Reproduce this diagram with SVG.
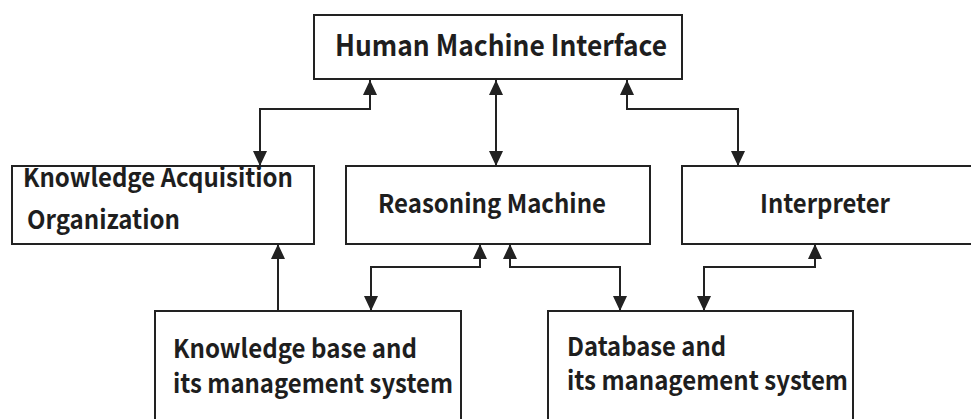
<svg xmlns="http://www.w3.org/2000/svg" width="971" height="419" viewBox="0 0 971 419">
  <style>
    .box { fill: #ffffff; stroke: #222222; stroke-width: 2; }
    .lbl { font-family: "Noto Sans CJK SC", "Noto Sans", sans-serif; font-weight: 700; font-size: 26px; fill: #1e1e1e; }
    .big { font-size: 29px; }
    .wire { fill: none; stroke: #222222; stroke-width: 2; }
    .two { marker-start: url(#head); marker-end: url(#head); }
    .one { marker-end: url(#head); }
  </style>
  <defs>
    <marker id="head" viewBox="0 -8 16 16" refX="15" refY="0" markerWidth="16" markerHeight="16" markerUnits="userSpaceOnUse" orient="auto-start-reverse">
      <path d="M0,-7 L15,0 L0,7 Z" fill="#222222"/>
    </marker>
  </defs>
  <rect width="971" height="419" fill="#ffffff"/>

  <g id="connectors">
    <path class="wire two" d="M370,80 V109 H260 V166"/>
    <path class="wire two" d="M496,80 V166"/>
    <path class="wire two" d="M627,80 V109 H738 V166"/>
    <path class="wire one" d="M278,311 V244"/>
    <path class="wire two" d="M480,244 V267 H371 V311"/>
    <path class="wire two" d="M510,244 V267 H620 V311"/>
    <path class="wire two" d="M815,244 V267 H704 V311"/>
  </g>

  <g id="hmi">
    <rect class="box" x="314" y="15" width="368" height="64"/>
    <text class="lbl big" x="335" y="56" textLength="332" lengthAdjust="spacingAndGlyphs">Human Machine Interface</text>
  </g>

  <g id="acquisition">
    <rect class="box" x="12" y="166" width="302" height="78"/>
    <text class="lbl" x="23" y="187" textLength="270" lengthAdjust="spacingAndGlyphs">Knowledge Acquisition</text>
    <text class="lbl" x="27" y="229" textLength="153" lengthAdjust="spacingAndGlyphs">Organization</text>
  </g>

  <g id="reasoning">
    <rect class="box" x="346" y="166" width="304" height="78"/>
    <text class="lbl" x="378" y="213" textLength="228" lengthAdjust="spacingAndGlyphs">Reasoning Machine</text>
  </g>

  <g id="interpreter">
    <rect class="box" x="682" y="166" width="300" height="78"/>
    <text class="lbl" x="760" y="213" textLength="130" lengthAdjust="spacingAndGlyphs">Interpreter</text>
  </g>

  <g id="knowledge-base">
    <rect class="box" x="155" y="311" width="306" height="120"/>
    <text class="lbl" x="173" y="358" textLength="244" lengthAdjust="spacingAndGlyphs">Knowledge base and</text>
    <text class="lbl" x="173" y="393" textLength="280" lengthAdjust="spacingAndGlyphs">its management system</text>
  </g>

  <g id="database">
    <rect class="box" x="548" y="311" width="305" height="120"/>
    <text class="lbl" x="567" y="356" textLength="159" lengthAdjust="spacingAndGlyphs">Database and</text>
    <text class="lbl" x="567" y="390" textLength="281" lengthAdjust="spacingAndGlyphs">its management system</text>
  </g>
</svg>
